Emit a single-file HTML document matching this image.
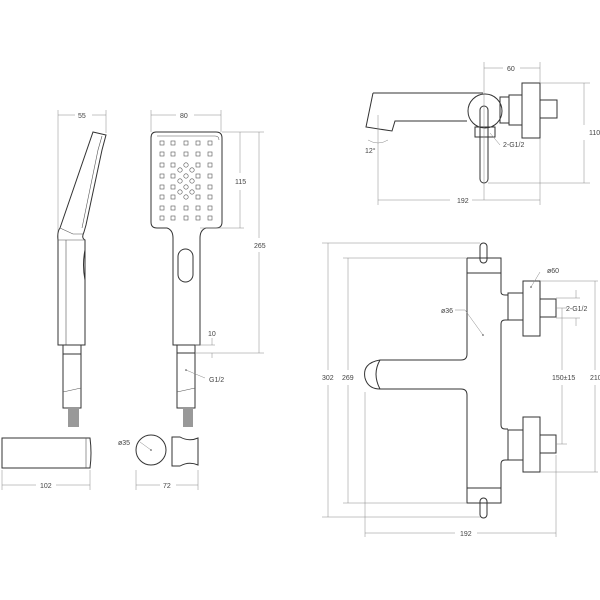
<!DOCTYPE html>
<html><head><meta charset="utf-8"><style>
html,body{margin:0;padding:0;background:#fff;}
svg{display:block}
text{font-family:"Liberation Sans",sans-serif;font-size:7px;fill:#444}
.o{fill:none;stroke:#333;stroke-width:1}
.d{fill:none;stroke:#888;stroke-width:0.5}
.t{fill:none;stroke:#555;stroke-width:0.6}
</style></head><body>
<svg width="600" height="600" viewBox="0 0 600 600">
<defs><g id="sq"><rect x="-2" y="-2" width="4" height="4" class="t"/></g><g id="ci"><circle r="2.2" class="t"/></g></defs>
<rect width="600" height="600" fill="#fff"/>

<g>
<line class="d" x1="58" y1="110" x2="58" y2="240"/><line class="d" x1="106" y1="110" x2="106" y2="133"/>
<line class="d" x1="58" y1="115" x2="75" y2="115"/><line class="d" x1="92" y1="115" x2="106" y2="115"/>
<text x="78" y="118">55</text>
<path class="o" d="M93,132 L106,135 L102,150 L86,225 L84,232 Q81,238 85,240 L85,345 L58,345 L58,240 Q57,232 60,228 L93,132Z"/>
<path class="t" d="M102,136 L98,150 L82,228"/>
<path class="t" d="M60,228 L73,234 L84,234"/>
<line class="t" x1="66" y1="240" x2="66" y2="345"/>
<line class="t" x1="58" y1="240" x2="85" y2="240"/>
<path class="o" d="M85,250 Q82,265 85,280"/>
<rect class="o" x="63" y="345" width="18" height="9"/>
<rect class="o" x="63" y="354" width="18" height="54"/>
<line class="t" x1="63" y1="392" x2="81" y2="388"/>
<rect x="68" y="408" width="11" height="19" fill="#999"/>
</g>

<g>
<line class="d" x1="151" y1="110" x2="151" y2="132"/><line class="d" x1="221" y1="110" x2="221" y2="132"/>
<line class="d" x1="151" y1="115" x2="176" y2="115"/><line class="d" x1="194" y1="115" x2="221" y2="115"/>
<text x="180" y="118">80</text>
<path class="o" d="M156,132 L216,132 Q222,132 222,138 L222,222 Q222,228 216,228 L206,228 Q200,230 200,238 L200,345 L173,345 L173,238 Q173,230 167,228 L157,228 Q151,228 151,222 L151,138 Q151,132 156,132Z"/>
<path class="t" d="M157,136 L215,136 Q219,136 219,140"/>
<rect class="o" x="178" y="249" width="15" height="33" rx="7.5"/>
<rect class="o" x="177" y="345" width="18" height="8"/>
<rect class="o" x="177" y="353" width="18" height="55"/>
<line class="t" x1="177" y1="392" x2="195" y2="388"/>
<rect x="183" y="408" width="10" height="19" fill="#999"/>
<g>
<use href="#sq" x="162" y="143"/><use href="#sq" x="173" y="143"/><use href="#sq" x="186" y="143"/><use href="#sq" x="198" y="143"/><use href="#sq" x="210" y="143"/>
<use href="#sq" x="162" y="154"/><use href="#sq" x="173" y="154"/><use href="#sq" x="186" y="154"/><use href="#sq" x="198" y="154"/><use href="#sq" x="210" y="154"/>
<use href="#sq" x="162" y="165"/><use href="#sq" x="173" y="165"/><use href="#sq" x="198" y="165"/><use href="#sq" x="210" y="165"/>
<use href="#sq" x="162" y="176"/><use href="#sq" x="173" y="176"/><use href="#sq" x="198" y="176"/><use href="#sq" x="210" y="176"/>
<use href="#sq" x="162" y="187"/><use href="#sq" x="173" y="187"/><use href="#sq" x="198" y="187"/><use href="#sq" x="210" y="187"/>
<use href="#sq" x="162" y="197"/><use href="#sq" x="173" y="197"/><use href="#sq" x="198" y="197"/><use href="#sq" x="210" y="197"/>
<use href="#sq" x="162" y="208"/><use href="#sq" x="173" y="208"/><use href="#sq" x="186" y="208"/><use href="#sq" x="198" y="208"/><use href="#sq" x="210" y="208"/>
<use href="#sq" x="162" y="218"/><use href="#sq" x="173" y="218"/><use href="#sq" x="186" y="218"/><use href="#sq" x="198" y="218"/><use href="#sq" x="210" y="218"/>
<use href="#ci" x="186" y="165"/><use href="#ci" x="180" y="170"/><use href="#ci" x="192" y="170"/><use href="#ci" x="186" y="176"/><use href="#ci" x="180" y="181"/><use href="#ci" x="192" y="181"/><use href="#ci" x="186" y="187"/><use href="#ci" x="180" y="192"/><use href="#ci" x="192" y="192"/><use href="#ci" x="186" y="197"/>
</g>
<line class="d" x1="222" y1="132" x2="264" y2="132"/><line class="d" x1="200" y1="228" x2="244" y2="228"/>
<line class="d" x1="240" y1="132" x2="240" y2="173"/><line class="d" x1="240" y1="190" x2="240" y2="228"/>
<text x="235" y="184">115</text>
<line class="d" x1="259" y1="132" x2="259" y2="238"/><line class="d" x1="259" y1="252" x2="259" y2="353"/>
<text x="254" y="248">265</text>
<line class="d" x1="195" y1="345" x2="215" y2="345"/><line class="d" x1="195" y1="353" x2="264" y2="353"/>
<line class="d" x1="212" y1="338" x2="212" y2="345"/><line class="d" x1="212" y1="353" x2="212" y2="358"/>
<text x="208" y="336">10</text>
<line class="d" x1="186" y1="370" x2="205" y2="378"/><circle cx="186" cy="370" r="0.8" fill="#444"/>
<text x="209" y="382">G1/2</text>
</g>

<path class="o" d="M2,438 L90,438 Q92,453 90,468 L2,468Z"/>
<line class="t" x1="86" y1="438" x2="86" y2="468"/>
<line class="d" x1="2" y1="470" x2="2" y2="490"/><line class="d" x1="90" y1="470" x2="90" y2="490"/>
<line class="d" x1="2" y1="485" x2="36" y2="485"/><line class="d" x1="56" y1="485" x2="90" y2="485"/>
<text x="40" y="488">102</text>
<circle class="o" cx="151" cy="450" r="15"/>
<path class="o" d="M172,437 L180,437 Q189,442 198,438 L198,465 Q189,461 180,466 L172,466 Z"/>
<line class="d" x1="140" y1="442" x2="151" y2="450"/><circle cx="151" cy="450" r="0.8" fill="#444"/>
<text x="118" y="445">ø35</text>
<line class="d" x1="136" y1="470" x2="136" y2="490"/><line class="d" x1="198" y1="470" x2="198" y2="490"/>
<line class="d" x1="136" y1="485" x2="160" y2="485"/><line class="d" x1="176" y1="485" x2="198" y2="485"/>
<text x="163" y="488">72</text>

<g>
<path class="o" d="M373,93 L483,93 M373,93 L366,127 L392,131 L395,121 L467,121"/>
<circle class="o" cx="485" cy="111" r="17"/>
<rect class="o" x="480" y="106" width="8" height="77" rx="4"/>
<rect class="o" x="475" y="127" width="20" height="10"/>
<rect class="o" x="500" y="97" width="9" height="26"/>
<rect class="o" x="509" y="95" width="13" height="30"/>
<rect class="o" x="522" y="83" width="18" height="55"/>
<rect class="o" x="540" y="100" width="17" height="18"/>
<line class="d" x1="484" y1="62" x2="484" y2="200"/><line class="d" x1="540" y1="62" x2="540" y2="83"/>
<line class="d" x1="484" y1="68" x2="503" y2="68"/><line class="d" x1="520" y1="68" x2="540" y2="68"/>
<text x="507" y="71">60</text>
<line class="d" x1="540" y1="83" x2="590" y2="83"/><line class="d" x1="488" y1="183" x2="590" y2="183"/>
<line class="d" x1="584" y1="83" x2="584" y2="125"/><line class="d" x1="584" y1="140" x2="584" y2="183"/>
<text x="589" y="135">110</text>
<line class="d" x1="378" y1="115" x2="378" y2="205"/><line class="d" x1="540" y1="138" x2="540" y2="205"/>
<line class="d" x1="378" y1="200" x2="450" y2="200"/><line class="d" x1="472" y1="200" x2="540" y2="200"/>
<text x="457" y="203">192</text>
<path class="d" d="M368,140 Q378,146 388,140"/>
<text x="365" y="153">12°</text>
<line class="d" x1="490" y1="133" x2="500" y2="145"/>
<text x="503" y="147">2-G1/2</text>
</g>

<g>
<rect class="o" x="480" y="243" width="7" height="20" rx="3.5"/>
<rect class="o" x="480" y="498" width="7" height="20" rx="3.5"/>
<path class="o" d="M467,258 L501,258 L501,292 Q501,295 505,295 L508,295 M508,320 L505,320 Q501,320 501,324 L501,425 Q501,429 505,429 L508,429 M508,460 L505,460 Q501,460 501,464 L501,503 L467,503 L467,395 Q467,389 461,389 L380,389 M380,360 L461,360 Q467,360 467,354 L467,258"/>
<line class="o" x1="467" y1="273" x2="501" y2="273"/>
<line class="o" x1="467" y1="488" x2="501" y2="488"/>
<path class="o" d="M380,360 Q362,363 365,378 Q368,389 380,389 M380,360 Q372,374 380,389"/>
<rect class="o" x="508" y="293" width="15" height="27"/>
<rect class="o" x="523" y="281" width="17" height="55"/>
<rect class="o" x="540" y="299" width="16" height="18"/>
<rect class="o" x="508" y="430" width="15" height="30"/>
<rect class="o" x="523" y="417" width="17" height="55"/>
<rect class="o" x="540" y="435" width="16" height="18"/>
<line class="d" x1="322" y1="243" x2="480" y2="243"/><line class="d" x1="322" y1="517" x2="480" y2="517"/>
<line class="d" x1="328" y1="243" x2="328" y2="370"/><line class="d" x1="328" y1="385" x2="328" y2="517"/>
<text x="322" y="380">302</text>
<line class="d" x1="343" y1="258" x2="467" y2="258"/><line class="d" x1="343" y1="503" x2="467" y2="503"/>
<line class="d" x1="348" y1="258" x2="348" y2="370"/><line class="d" x1="348" y1="385" x2="348" y2="503"/>
<text x="342" y="380">269</text>
<line class="d" x1="365" y1="392" x2="365" y2="537"/><line class="d" x1="556" y1="455" x2="556" y2="537"/>
<line class="d" x1="365" y1="533" x2="455" y2="533"/><line class="d" x1="477" y1="533" x2="556" y2="533"/>
<text x="460" y="536">192</text>
<line class="d" x1="540" y1="281" x2="598" y2="281"/><line class="d" x1="540" y1="472" x2="598" y2="472"/>
<line class="d" x1="595" y1="281" x2="595" y2="370"/><line class="d" x1="595" y1="385" x2="595" y2="472"/>
<text x="590" y="380">210</text>
<line class="d" x1="556" y1="308" x2="567" y2="308"/><line class="d" x1="556" y1="444" x2="567" y2="444"/>
<line class="d" x1="562" y1="308" x2="562" y2="370"/><line class="d" x1="562" y1="385" x2="562" y2="444"/>
<text x="552" y="380">150±15</text>
<line class="d" x1="556" y1="298" x2="580" y2="298"/><line class="d" x1="556" y1="318" x2="580" y2="318"/>
<line class="d" x1="576" y1="290" x2="576" y2="298"/><line class="d" x1="576" y1="318" x2="576" y2="326"/>
<text x="566" y="311">2-G1/2</text>
<line class="d" x1="531" y1="287" x2="540" y2="272"/><circle cx="531" cy="287" r="0.8" fill="#444"/>
<text x="547" y="273">ø60</text>
<path class="d" d="M455,310 L465,310 L483,335"/><circle cx="483" cy="335" r="0.8" fill="#444"/>
<text x="441" y="313">ø36</text>
</g>
</svg>
</body></html>
